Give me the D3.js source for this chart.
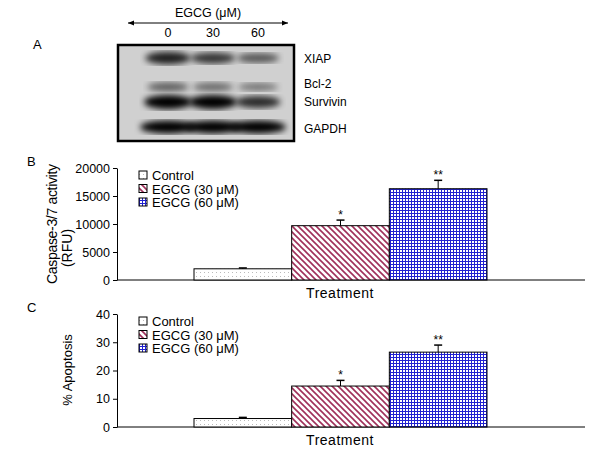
<!DOCTYPE html>
<html><head><meta charset="utf-8">
<script src="https://cdn.jsdelivr.net/npm/d3@7"></script>
<style>body{margin:0;background:#fff}text{font-family:Arial,"Liberation Sans",sans-serif}</style>
</head><body>
<script>
var width = 600, height = 457;
var groups = ["Control", "EGCG (30 \u03bcM)", "EGCG (60 \u03bcM)"];
var caspase = [2000, 9700, 16300];
var caspaseErr = [150, 1000, 1500];
var caspaseSig = ["", "*", "**"];
var apoptosis = [3, 14.5, 26.5];
var apoptosisErr = [0.4, 2, 2.5];
var apoptosisSig = ["", "*", "**"];
var caspaseTicks = [0, 5000, 10000, 15000, 20000];
var apoptosisTicks = [0, 10, 20, 30, 40];
var lanes = ["0", "30", "60"];
var proteins = ["XIAP", "Bcl-2", "Survivin", "GAPDH"];
// band darkness per protein per lane
var bands = [[0.85, 0.75, 0.6], [0.55, 0.5, 0.45], [1, 1, 0.8], [1, 1, 1]];

var svg = d3.select("body").append("svg").attr("width", width).attr("height", height);
var defs = svg.append("defs");
defs.append("filter").attr("id", "blur").append("feGaussianBlur").attr("stdDeviation", 3);

var p1 = defs.append("pattern").attr("id", "dots").attr("width", 4).attr("height", 4).attr("patternUnits", "userSpaceOnUse");
p1.append("rect").attr("width", 4).attr("height", 4).attr("fill", "#fff");
p1.append("rect").attr("width", 1).attr("height", 1).attr("fill", "#bbb");
var p2 = defs.append("pattern").attr("id", "diag").attr("width", 6).attr("height", 6).attr("patternUnits", "userSpaceOnUse");
p2.append("rect").attr("width", 6).attr("height", 6).attr("fill", "#fff");
p2.append("path").attr("d", "M0,0L6,6M-3,3L3,9M3,-3L9,3").attr("stroke", "#a0305a").attr("stroke-width", 1.6);
var p3 = defs.append("pattern").attr("id", "grid").attr("width", 3).attr("height", 3).attr("patternUnits", "userSpaceOnUse");
p3.append("rect").attr("width", 3).attr("height", 3).attr("fill", "#fff");
p3.append("path").attr("d", "M0,0.5H3M0.5,0V3").attr("stroke", "#2020d0").attr("stroke-width", 1);
var fills = ["url(#dots)", "url(#diag)", "url(#grid)"];

// Panel A: blot
svg.append("text").attr("x", 33).attr("y", 49).attr("font-size", 13).text("A");
svg.append("text").attr("x", 208).attr("y", 17).attr("text-anchor", "middle").attr("font-size", 12.5).text("EGCG (\u03bcM)");
defs.append("marker").attr("id", "arr").attr("viewBox", "0 0 10 10").attr("refX", 10).attr("refY", 5)
  .attr("markerWidth", 6).attr("markerHeight", 6).attr("orient", "auto-start-reverse")
  .append("path").attr("d", "M0,1L10,5L0,9z").attr("fill", "#000");
svg.append("line").attr("x1", 128).attr("x2", 288).attr("y1", 23).attr("y2", 23).attr("stroke", "#000")
  .attr("marker-start", "url(#arr)").attr("marker-end", "url(#arr)");
var laneX = d3.scalePoint().domain(lanes).range([168, 258]);
svg.selectAll(".lane").data(lanes).enter().append("text").attr("x", d => laneX(d)).attr("y", 37)
  .attr("text-anchor", "middle").attr("font-size", 12.5).text(d => d);
var rowY = d3.scalePoint().domain(proteins).range([58, 127]);
var blot = svg.append("g");
blot.append("rect").attr("x", 118).attr("y", 45).attr("width", 176).attr("height", 96).attr("fill", "#d0d0d0");
proteins.forEach(function(p, i) {
  lanes.forEach(function(l, j) {
    var k = bands[i][j];
    blot.append("ellipse").attr("cx", laneX(l)).attr("cy", rowY(p) + (i == 1 ? 6 : 0) + (i == 2 ? -2 : 0))
      .attr("rx", i == 3 ? 28 : 24 * (0.7 + 0.3 * k)).attr("ry", i == 3 ? 6.5 : 5.5 * k + 1.5)
      .attr("fill", "#000").attr("opacity", k).attr("filter", "url(#blur)");
  });
});
blot.append("rect").attr("x", 118).attr("y", 45).attr("width", 176).attr("height", 96).attr("fill", "none").attr("stroke", "#000").attr("stroke-width", 2.5);
var labY = [63, 88, 106, 133];
proteins.forEach(function(p, i) {
  svg.append("text").attr("x", 304).attr("y", labY[i]).attr("font-size", 12).text(p);
});

function panel(letter, top, bottom, vals, errs, sigs, ticks) {
  var g = svg.append("g");
  var y = d3.scaleLinear().domain([0, ticks[ticks.length - 1]]).range([bottom, top]);
  var x = d3.scaleBand().domain(groups).range([194, 487]);
  g.append("g").attr("transform", "translate(117,0)")
    .call(d3.axisLeft(y).tickValues(ticks).tickFormat(d3.format("d")).tickSize(4).tickSizeOuter(0))
    .call(a => a.selectAll("text").attr("font-size", 12.5).attr("font-family", "Arial"));
  g.append("line").attr("x1", 117).attr("x2", 585).attr("y1", bottom).attr("y2", bottom).attr("stroke", "#000");
  g.selectAll(".bar").data(vals).enter().append("rect")
    .attr("x", (d, i) => x(groups[i])).attr("width", x.bandwidth())
    .attr("y", d => y(d)).attr("height", d => bottom - y(d))
    .attr("fill", (d, i) => fills[i]).attr("stroke", "#000");
  vals.forEach(function(v, i) {
    var cx = x(groups[i]) + x.bandwidth() / 2;
    g.append("line").attr("x1", cx).attr("x2", cx).attr("y1", y(v)).attr("y2", y(v + errs[i])).attr("stroke", "#000");
    g.append("line").attr("x1", cx - 4).attr("x2", cx + 4).attr("y1", y(v + errs[i])).attr("y2", y(v + errs[i])).attr("stroke", "#000").attr("stroke-width", 1.5);
    g.append("text").attr("x", cx).attr("y", y(v + errs[i]) - 1).attr("text-anchor", "middle").attr("font-size", 12).text(sigs[i]);
  });
  g.append("text").attr("x", 340).attr("y", bottom + 18).attr("text-anchor", "middle").attr("font-size", 14).attr("letter-spacing", 0.5).text("Treatment");
  g.append("text").attr("x", 27).attr("y", top - 2).attr("font-size", 13).text(letter);
  var lg = g.append("g").attr("transform", "translate(139," + (top + 2) + ")");
  groups.forEach(function(n, i) {
    lg.append("rect").attr("x", 0).attr("y", i * 13.5 + 1).attr("width", 8).attr("height", 8).attr("fill", fills[i]).attr("stroke", "#000");
    lg.append("text").attr("x", 13).attr("y", i * 13.5 + 10).attr("font-size", 13).text(n);
  });
  return y;
}
panel("B", 168, 280, caspase, caspaseErr, caspaseSig, caspaseTicks);
svg.append("text").attr("transform", "translate(57,224) rotate(-90)").attr("text-anchor", "middle").attr("font-size", 14)
  .attr("font-family", "Arial Narrow,Liberation Sans Narrow,Arial").attr("textLength", 120).text("Caspase-3/7 activity");
svg.append("text").attr("transform", "translate(72,248) rotate(-90)").attr("text-anchor", "middle").attr("font-size", 14)
  .attr("font-family", "Arial Narrow,Liberation Sans Narrow,Arial").text("(RFU)");
panel("C", 314, 427, apoptosis, apoptosisErr, apoptosisSig, apoptosisTicks);
svg.append("text").attr("transform", "translate(72,370) rotate(-90)").attr("text-anchor", "middle").attr("font-size", 13)
  .attr("font-family", "Arial Narrow,Liberation Sans Narrow,Arial").text("% Apoptosis");
</script>
</body></html>
